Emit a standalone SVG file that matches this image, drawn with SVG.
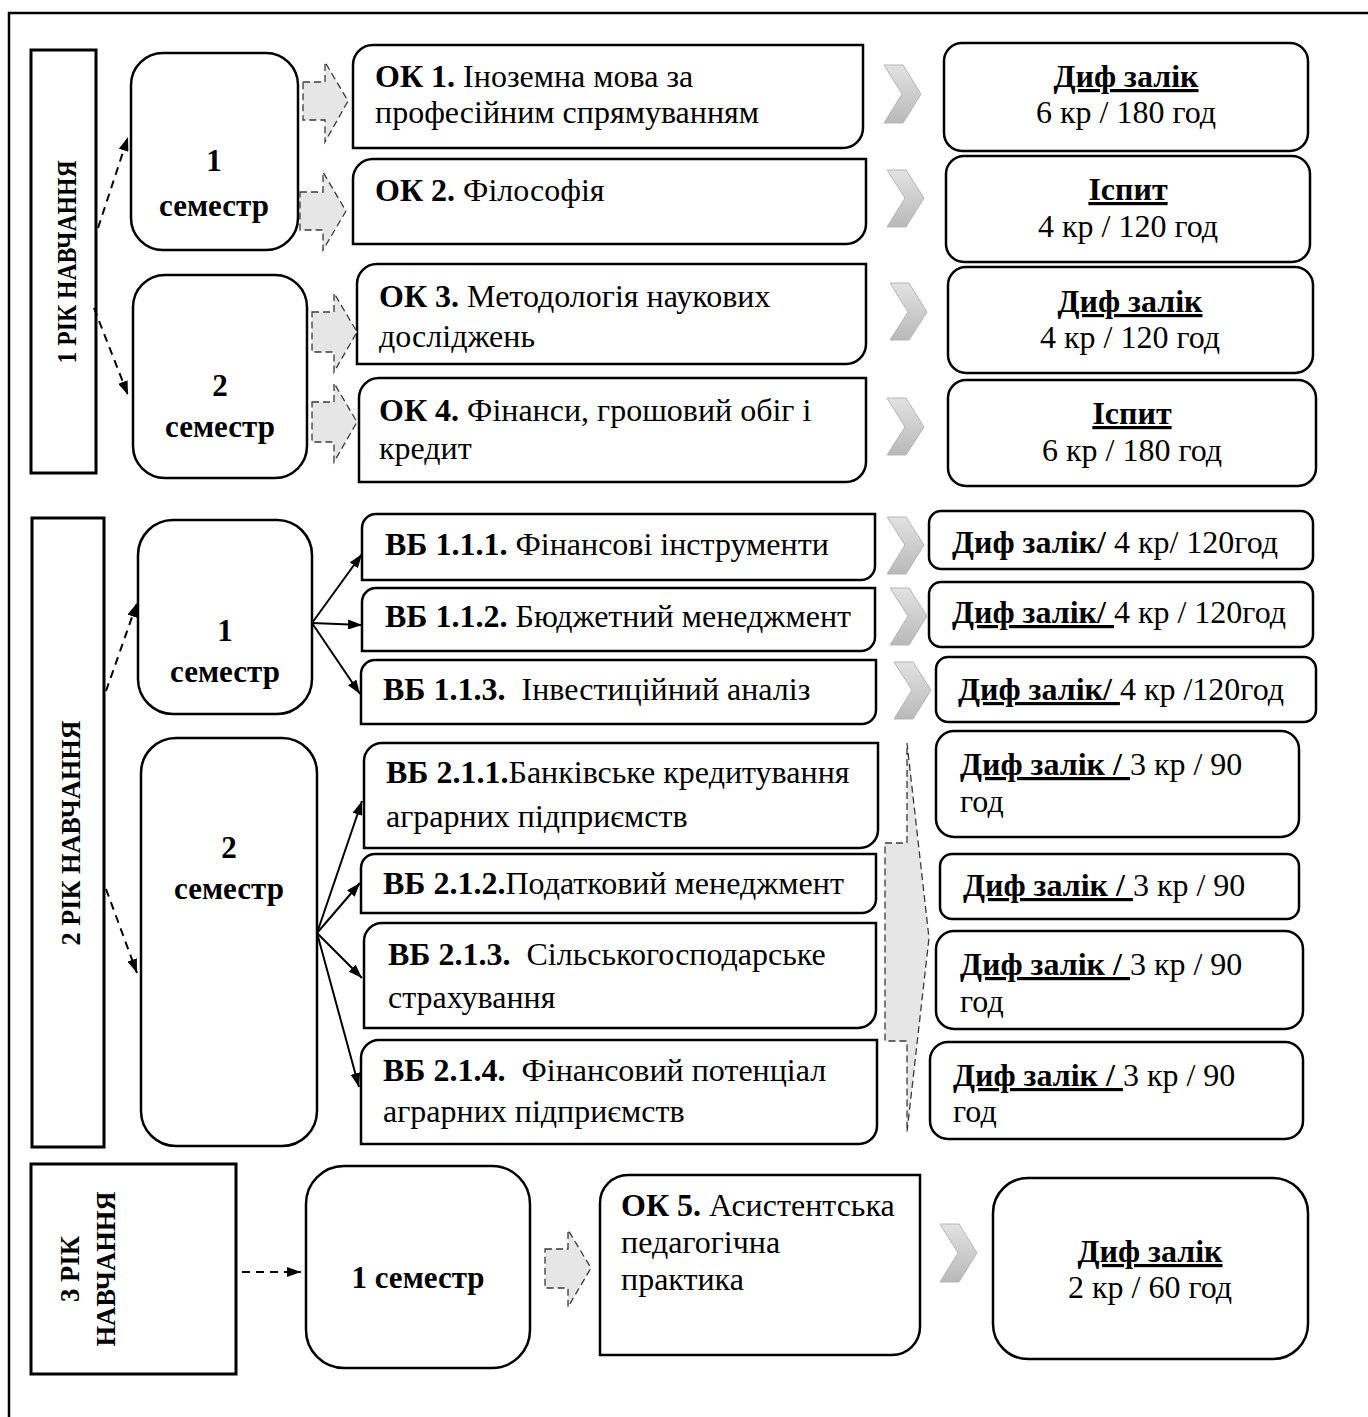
<svg xmlns="http://www.w3.org/2000/svg" width="1368" height="1417" viewBox="0 0 1368 1417">
<style>
.box{fill:#fff;stroke:#000;stroke-width:2.5}
.lab{fill:#fff;stroke:#000;stroke-width:3}
.blk{fill:#e6e6e6;stroke:#3a3a3a;stroke-width:1.3;stroke-dasharray:7 4}
.chev{fill:url(#cg);stroke:#b5b5b5;stroke-width:1}
.t{font-family:"Liberation Serif","Times New Roman",serif;font-size:32px;fill:#000}
.s{font-size:31px}
.c{text-anchor:middle}
.b{font-weight:bold}
.u{text-decoration:underline}
.rl{font-family:"Liberation Serif","Times New Roman",serif;font-size:27px;font-weight:bold;fill:#000;text-anchor:middle}
.dash{stroke:#000;stroke-width:2;stroke-dasharray:8 6;fill:none}
.sol{stroke:#000;stroke-width:2;fill:none}
</style>
<defs>
<linearGradient id="cg" x1="0" y1="0" x2="0" y2="1">
<stop offset="0" stop-color="#e2e2e2"/>
<stop offset="1" stop-color="#b9b9b9"/>
</linearGradient>
<marker id="ah" viewBox="0 0 14 10" refX="14" refY="5" markerWidth="14" markerHeight="10" markerUnits="userSpaceOnUse" orient="auto">
<path d="M0,0 L14,5 L0,10 Z" fill="#000"/>
</marker>
</defs>
<rect width="1368" height="1417" fill="#fff"/>
<rect x="9" y="13" width="1400" height="1450" fill="none" stroke="#000" stroke-width="2.5"/>

<!-- Year 1 -->
<g id="year1">
<rect class="lab" x="31" y="50" width="65" height="423"/>
<text class="rl" transform="translate(76,262) rotate(-90)" textLength="203" lengthAdjust="spacingAndGlyphs">1 РІК НАВЧАННЯ</text>
</g>
<g id="y1s1">
<rect class="box" x="131" y="53" width="167" height="197" rx="32"/>
<text class="t s b c" x="214" y="171">1</text>
<text class="t s b c" x="214" y="216">семестр</text>
</g>
<g id="y1s2">
<rect class="box" x="133" y="275" width="174" height="203" rx="32"/>
<text class="t s b c" x="220" y="396">2</text>
<text class="t s b c" x="220" y="437">семестр</text>
</g>
<g id="ok1">
<path class="box" d="M373,45 H863 V128 A20,20 0 0 1 843,148 H353 V65 A20,20 0 0 1 373,45 Z"/>
<text class="t" x="375" y="87"><tspan class="b">ОК 1.</tspan> Іноземна мова за</text>
<text class="t" x="375" y="123">професійним спрямуванням</text>
</g>
<g id="ok2">
<path class="box" d="M373,159 H866 V224 A20,20 0 0 1 846,244 H353 V179 A20,20 0 0 1 373,159 Z"/>
<text class="t" x="375" y="201"><tspan class="b">ОК 2.</tspan> Філософія</text>
</g>
<g id="ok3">
<path class="box" d="M377,264 H866 V344 A20,20 0 0 1 846,364 H357 V284 A20,20 0 0 1 377,264 Z"/>
<text class="t" x="379" y="307"><tspan class="b">ОК 3.</tspan> Методологія наукових</text>
<text class="t" x="379" y="347">досліджень</text>
</g>
<g id="ok4">
<path class="box" d="M379,378 H866 V462 A20,20 0 0 1 846,482 H359 V398 A20,20 0 0 1 379,378 Z"/>
<text class="t" x="379" y="421"><tspan class="b">ОК 4.</tspan> Фінанси, грошовий обіг і</text>
<text class="t" x="379" y="459">кредит</text>
</g>
<g id="r1">
<rect class="box" x="944" y="43" width="364" height="108" rx="18"/>
<text class="t b u c" x="1126" y="87">Диф залік</text>
<text class="t c" x="1126" y="123">6 кр / 180 год</text>
</g>
<g id="r2">
<rect class="box" x="946" y="156" width="364" height="106" rx="18"/>
<text class="t b u c" x="1128" y="200">Іспит</text>
<text class="t c" x="1128" y="237">4 кр / 120 год</text>
</g>
<g id="r3">
<rect class="box" x="948" y="267" width="365" height="106" rx="18"/>
<text class="t b u c" x="1130" y="312">Диф залік</text>
<text class="t c" x="1130" y="348">4 кр / 120 год</text>
</g>
<g id="r4">
<rect class="box" x="948" y="380" width="368" height="106" rx="18"/>
<text class="t b u c" x="1132" y="424">Іспит</text>
<text class="t c" x="1132" y="461">6 кр / 180 год</text>
</g>

<!-- Year 2 -->
<g id="year2">
<rect class="lab" x="32" y="518" width="72" height="629"/>
<text class="rl" transform="translate(80,833) rotate(-90)" textLength="225" lengthAdjust="spacingAndGlyphs">2 РІК НАВЧАННЯ</text>
</g>
<g id="y2s1">
<rect class="box" x="138" y="520" width="174" height="194" rx="35"/>
<text class="t s b c" x="225" y="641">1</text>
<text class="t s b c" x="225" y="682">семестр</text>
</g>
<g id="y2s2">
<rect class="box" x="141" y="738" width="176" height="408" rx="35"/>
<text class="t s b c" x="229" y="858">2</text>
<text class="t s b c" x="229" y="899">семестр</text>
</g>
<g id="vb111">
<path class="box" d="M376,514 H875 V566 A14,14 0 0 1 861,580 H362 V528 A14,14 0 0 1 376,514 Z"/>
<text class="t" x="385" y="555"><tspan class="b">ВБ 1.1.1.</tspan> Фінансові інструменти</text>
</g>
<g id="vb112">
<path class="box" d="M376,588 H875 V637 A14,14 0 0 1 861,651 H362 V602 A14,14 0 0 1 376,588 Z"/>
<text class="t" x="385" y="627"><tspan class="b">ВБ 1.1.2.</tspan> Бюджетний менеджмент</text>
</g>
<g id="vb113">
<path class="box" d="M375,660 H876 V710 A14,14 0 0 1 862,724 H361 V674 A14,14 0 0 1 375,660 Z"/>
<text class="t" x="383" y="700" xml:space="preserve"><tspan class="b">ВБ 1.1.3.</tspan>  Інвестиційний аналіз</text>
</g>
<g id="vb211">
<path class="box" d="M382,743 H878 V830 A18,18 0 0 1 860,848 H364 V761 A18,18 0 0 1 382,743 Z"/>
<text class="t" x="386" y="783"><tspan class="b">ВБ 2.1.1.</tspan>Банківське кредитування</text>
<text class="t" x="386" y="827">аграрних підприємств</text>
</g>
<g id="vb212">
<path class="box" d="M375,854 H876 V899 A14,14 0 0 1 862,913 H361 V868 A14,14 0 0 1 375,854 Z"/>
<text class="t" x="383" y="894"><tspan class="b">ВБ 2.1.2.</tspan>Податковий менеджмент</text>
</g>
<g id="vb213">
<path class="box" d="M382,923 H876 V1010 A18,18 0 0 1 858,1028 H364 V941 A18,18 0 0 1 382,923 Z"/>
<text class="t" x="388" y="965" xml:space="preserve"><tspan class="b">ВБ 2.1.3.</tspan>  Сільськогосподарське</text>
<text class="t" x="388" y="1008">страхування</text>
</g>
<g id="vb214">
<path class="box" d="M379,1040 H877 V1126 A18,18 0 0 1 859,1144 H361 V1058 A18,18 0 0 1 379,1040 Z"/>
<text class="t" x="383" y="1081" xml:space="preserve"><tspan class="b">ВБ 2.1.4.</tspan>  Фінансовий потенціал</text>
<text class="t" x="383" y="1122">аграрних підприємств</text>
</g>
<g id="rb1">
<rect class="box" x="929" y="511" width="384" height="58" rx="12"/>
<text class="t" x="952" y="553"><tspan class="b">Диф залік/</tspan> 4 кр/ 120год</text>
</g>
<g id="rb2">
<rect class="box" x="929" y="582" width="384" height="65" rx="12"/>
<text class="t" x="952" y="623" xml:space="preserve"><tspan class="b u">Диф залік/ </tspan>4 кр / 120год</text>
</g>
<g id="rb3">
<rect class="box" x="936" y="657" width="380" height="65" rx="12"/>
<text class="t" x="958" y="700" xml:space="preserve"><tspan class="b u">Диф залік/ </tspan>4 кр /120год</text>
</g>
<g id="rb4">
<rect class="box" x="936" y="731" width="363" height="106" rx="18"/>
<text class="t" x="960" y="775" xml:space="preserve"><tspan class="b u">Диф залік / </tspan>3 кр / 90</text>
<text class="t" x="960" y="812">год</text>
</g>
<g id="rb5">
<rect class="box" x="940" y="854" width="359" height="65" rx="12"/>
<text class="t" x="963" y="896" xml:space="preserve"><tspan class="b u">Диф залік / </tspan>3 кр / 90</text>
</g>
<g id="rb6">
<rect class="box" x="936" y="931" width="367" height="98" rx="18"/>
<text class="t" x="960" y="975" xml:space="preserve"><tspan class="b u">Диф залік / </tspan>3 кр / 90</text>
<text class="t" x="960" y="1012">год</text>
</g>
<g id="rb7">
<rect class="box" x="930" y="1042" width="373" height="97" rx="18"/>
<text class="t" x="953" y="1086" xml:space="preserve"><tspan class="b u">Диф залік / </tspan>3 кр / 90</text>
<text class="t" x="953" y="1122">год</text>
</g>

<!-- Year 3 -->
<g id="year3">
<rect class="lab" x="31" y="1164" width="205" height="210"/>
<text class="rl" transform="translate(79,1269) rotate(-90)" textLength="66" lengthAdjust="spacingAndGlyphs">3 РІК</text>
<text class="rl" transform="translate(115,1269) rotate(-90)" textLength="155" lengthAdjust="spacingAndGlyphs">НАВЧАННЯ</text>
</g>
<g id="y3s1">
<rect class="box" x="306" y="1166" width="224" height="202" rx="38"/>
<text class="t s b c" x="418" y="1288">1 семестр</text>
</g>
<g id="ok5">
<path class="box" d="M628,1175 H920 V1327 A28,28 0 0 1 892,1355 H600 V1203 A28,28 0 0 1 628,1175 Z"/>
<text class="t" x="621" y="1216"><tspan class="b">ОК 5.</tspan> Асистентська</text>
<text class="t" x="621" y="1253">педагогічна</text>
<text class="t" x="621" y="1290">практика</text>
</g>
<g id="ry3">
<rect class="box" x="993" y="1178" width="315" height="181" rx="35"/>
<text class="t b u c" x="1150" y="1262">Диф залік</text>
<text class="t c" x="1150" y="1298">2 кр / 60 год</text>
</g>

<!-- Connectors -->
<g id="connectors">
<line class="dash" x1="98" y1="228" x2="128" y2="137" marker-end="url(#ah)"/>
<line class="dash" x1="94" y1="308" x2="128" y2="395" marker-end="url(#ah)"/>
<line class="dash" x1="106" y1="691" x2="137" y2="603" marker-end="url(#ah)"/>
<line class="dash" x1="106" y1="889" x2="137" y2="973" marker-end="url(#ah)"/>
<line class="dash" x1="242" y1="1272" x2="301" y2="1272" marker-end="url(#ah)"/>
<line class="sol" x1="312" y1="623" x2="362" y2="554" marker-end="url(#ah)"/>
<line class="sol" x1="312" y1="623" x2="362" y2="625" marker-end="url(#ah)"/>
<line class="sol" x1="312" y1="623" x2="360" y2="694" marker-end="url(#ah)"/>
<line class="sol" x1="317" y1="933" x2="362" y2="801" marker-end="url(#ah)"/>
<line class="sol" x1="317" y1="933" x2="360" y2="883" marker-end="url(#ah)"/>
<line class="sol" x1="317" y1="933" x2="362" y2="978" marker-end="url(#ah)"/>
<line class="sol" x1="317" y1="933" x2="359" y2="1087" marker-end="url(#ah)"/>
<path class="blk" d="M303,82 H325 V62 L348,101 L325,142 V120 H303 Z"/>
<path class="blk" d="M300,192 H323 V172 L346,211 L323,250 V230 H300 Z"/>
<path class="blk" d="M312,312 H334 V293 L357,332 L334,372 V352 H312 Z"/>
<path class="blk" d="M312,402 H334 V383 L357,422 L334,462 V442 H312 Z"/>
<path class="blk" d="M885,843 H907 V743 L929,938 L907,1132 V1041 H885 Z"/>
<path class="blk" d="M545,1249 H568 V1230 L591,1268 L568,1307 V1288 H545 Z"/>
<path class="chev" d="M884,65 L903,65 L921,94 L903,123 L884,123 L902,94 Z"/>
<path class="chev" d="M887,170 L906,170 L924,198 L906,227 L887,227 L905,198 Z"/>
<path class="chev" d="M890,283 L909,283 L927,312 L909,340 L890,340 L908,312 Z"/>
<path class="chev" d="M887,398 L906,398 L924,427 L906,455 L887,455 L905,427 Z"/>
<path class="chev" d="M887,517 L906,517 L924,545 L906,574 L887,574 L905,545 Z"/>
<path class="chev" d="M890,588 L909,588 L927,616 L909,645 L890,645 L908,616 Z"/>
<path class="chev" d="M894,662 L913,662 L931,690 L913,719 L894,719 L912,690 Z"/>
<path class="chev" d="M940,1224 L959,1224 L977,1253 L959,1282 L940,1282 L958,1253 Z"/>
</g>
</svg>
